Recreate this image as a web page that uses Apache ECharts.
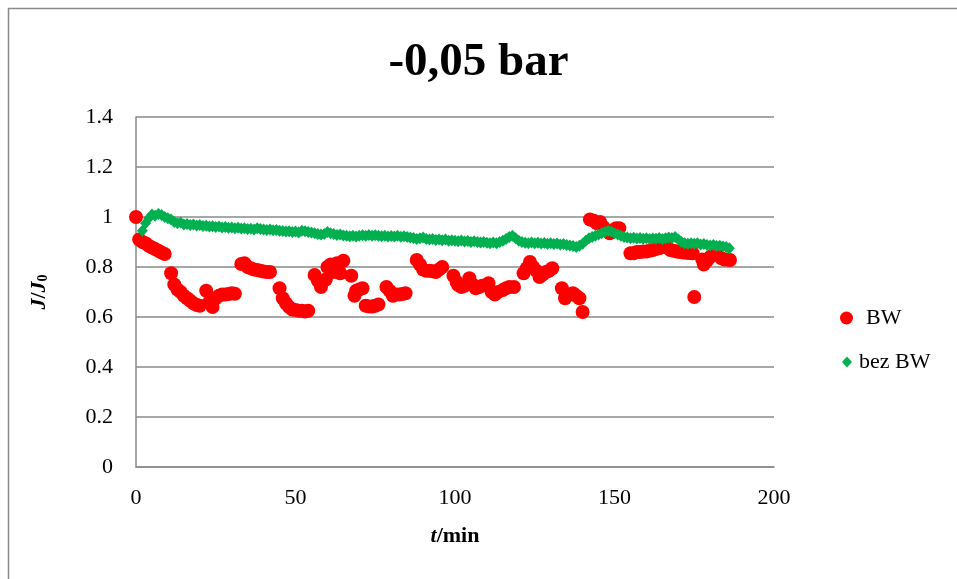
<!DOCTYPE html>
<html>
<head>
<meta charset="utf-8">
<script src="https://cdn.jsdelivr.net/npm/echarts@6/dist/echarts.min.js"></script>
<style>html,body{margin:0;padding:0;background:#fff}#c{width:957px;height:579px}</style>
</head>
<body>
<div id="c"></div>
<script>
var titleText = '-0,05 bar';
var seriesNames = ['BW', 'bez BW'];
var xTicks = {min: 0, max: 200, interval: 50};
var yTicks = {min: 0, max: 1.4, interval: 0.2};

var bwX = [0,1,2,3,4,5,6,7,8,9,11,12,13,14,15,16,17,18,19,20,22,23,24,25,26,27,28,29,30,31,33,34,35,36,37,38,39,40,41,42,45,46,47,48,49,50,51,52,53,54,56,57,58,59.5,60,61,62,63,64,65,67.5,68.5,69,70,71,72,73,74,75,76,78.5,79.5,80.5,81.5,82.5,83.5,84.5,88,89,90,91,92,93,94,95,96,99.5,100.5,101,102,103,104.5,105.5,106.5,107.5,108.5,110.5,111.5,112.5,113.5,115,116,117,118.5,121.5,122.5,123.5,124.5,125.5,126.5,127.5,128.5,129.5,130.5,133.5,134.5,135,136,137,138,139,140,142.3,143.5,144.5,145.5,146.5,147.5,148.5,149.5,150.5,151.5,155,156,157,158,159,160,161,162,163,164,165.5,166.5,167.5,168.5,169.5,170.5,171.5,172.5,173.5,174.5,175,177.5,178,179,180,181,182,183.5,184.5,185.5,186.2];
var bwY = [1.0,0.91,0.90,0.895,0.885,0.878,0.872,0.865,0.858,0.852,0.775,0.73,0.71,0.70,0.685,0.675,0.665,0.655,0.648,0.645,0.705,0.66,0.64,0.675,0.685,0.69,0.69,0.692,0.695,0.693,0.812,0.815,0.80,0.795,0.79,0.788,0.785,0.782,0.78,0.78,0.715,0.675,0.655,0.64,0.63,0.628,0.625,0.625,0.622,0.625,0.768,0.745,0.72,0.75,0.80,0.81,0.78,0.815,0.775,0.825,0.765,0.685,0.705,0.71,0.715,0.645,0.642,0.642,0.645,0.65,0.72,0.705,0.685,0.69,0.69,0.692,0.695,0.828,0.81,0.79,0.785,0.785,0.783,0.78,0.79,0.80,0.765,0.74,0.728,0.72,0.725,0.755,0.73,0.715,0.72,0.725,0.735,0.70,0.69,0.70,0.708,0.715,0.72,0.72,0.775,0.795,0.82,0.80,0.785,0.76,0.77,0.78,0.785,0.795,0.715,0.675,0.69,0.69,0.695,0.685,0.675,0.62,0.99,0.985,0.975,0.98,0.96,0.945,0.935,0.945,0.955,0.955,0.855,0.855,0.86,0.86,0.862,0.862,0.865,0.868,0.872,0.875,0.885,0.878,0.868,0.865,0.862,0.86,0.858,0.857,0.856,0.855,0.68,0.83,0.81,0.825,0.84,0.848,0.85,0.835,0.83,0.83,0.828];

var bezX = [2,3,4,5,6,7,8,9,10,11,12,13,14,15,16,17,18,19,20,21,22,23,24,25,26,27,28,29,30,31,32,33,34,35,36,37,38,39,40,41,42,43,44,45,46,47,48,49,50,51,52,53,54,55,56,57,58,59,60,61,62,63,64,65,66,67,68,69,70,71,72,73,74,75,76,77,78,79,80,81,82,83,84,85,86,87,88,89,90,91,92,93,94,95,96,97,98,99,100,101,102,103,104,105,106,107,108,109,110,111,112,113,114,115,116,117,118,119,120,121,122,123,124,125,126,127,128,129,130,131,132,133,134,135,136,137,138,139,140,141,142,143,144,145,146,147,148,149,150,151,152,153,154,155,156,157,158,159,160,161,162,163,164,165,166,167,168,169,170,171,172,173,174,175,176,177,178,179,180,181,182,183,184,185,186];
var bezY = [0.945,0.975,0.995,1.01,1.005,1.012,1.008,1.0,0.995,0.99,0.98,0.975,0.978,0.97,0.972,0.968,0.97,0.966,0.968,0.964,0.965,0.962,0.963,0.96,0.962,0.958,0.96,0.957,0.958,0.955,0.957,0.954,0.955,0.952,0.953,0.95,0.955,0.952,0.95,0.948,0.95,0.947,0.948,0.945,0.944,0.942,0.943,0.94,0.942,0.938,0.945,0.943,0.94,0.938,0.935,0.932,0.93,0.932,0.94,0.935,0.932,0.928,0.93,0.926,0.925,0.923,0.925,0.922,0.925,0.927,0.925,0.928,0.925,0.927,0.925,0.923,0.925,0.922,0.924,0.922,0.925,0.921,0.923,0.92,0.918,0.916,0.912,0.915,0.918,0.912,0.91,0.912,0.908,0.91,0.907,0.91,0.905,0.907,0.905,0.903,0.906,0.902,0.904,0.9,0.903,0.9,0.898,0.9,0.897,0.895,0.898,0.895,0.9,0.905,0.912,0.92,0.925,0.915,0.905,0.9,0.897,0.895,0.898,0.895,0.897,0.894,0.896,0.893,0.895,0.892,0.894,0.89,0.892,0.888,0.886,0.884,0.88,0.885,0.893,0.905,0.915,0.92,0.925,0.93,0.935,0.94,0.945,0.942,0.935,0.93,0.925,0.92,0.918,0.915,0.917,0.914,0.916,0.913,0.915,0.912,0.914,0.913,0.916,0.912,0.915,0.918,0.916,0.92,0.91,0.9,0.895,0.893,0.895,0.893,0.895,0.89,0.892,0.888,0.886,0.888,0.884,0.885,0.882,0.88,0.875];

function pairs(xs, ys) { return xs.map(function (x, i) { return [x, ys[i]]; }); }

var FONT = '"Liberation Serif","Times New Roman",serif';
var GRID_COLOR = '#8a8a8a';
var chart = echarts.init(document.getElementById('c'), null, {renderer: 'canvas'});
chart.setOption({
  backgroundColor: '#ffffff',
  animation: false,
  title: {
    text: titleText, left: 'center', top: 34,
    textStyle: {fontFamily: FONT, fontWeight: 'bold', fontSize: 47, color: '#000'}
  },
  graphic: [{
    type: 'rect', shape: {x: 8.5, y: 8.5, width: 1000, height: 1000},
    style: {fill: 'none', stroke: GRID_COLOR, lineWidth: 1.5}, silent: true
  }],
  legend: [{
    data: [seriesNames[0]], orient: 'vertical', left: 835, top: 302,
    icon: 'circle', itemWidth: 13, itemHeight: 13, itemGap: 10,
    itemStyle: {opacity: 1},
    textStyle: {fontFamily: FONT, fontSize: 22, color: '#000', padding: [0, 0, 0, 8]}
  }, {
    data: [seriesNames[1]], orient: 'vertical', left: 837, top: 346,
    icon: 'diamond', itemWidth: 10, itemHeight: 11, itemGap: 10,
    itemStyle: {opacity: 1},
    textStyle: {fontFamily: FONT, fontSize: 22, color: '#000', padding: [0, 0, 0, 2]}
  }],
  grid: {left: 136, right: 183, top: 117, bottom: 112, containLabel: false},
  xAxis: {
    type: 'value', min: xTicks.min, max: xTicks.max, interval: xTicks.interval,
    name: '{i|t}{b|/min}', nameLocation: 'middle', nameGap: 58,
    nameTextStyle: {rich: {
      i: {fontFamily: FONT, fontSize: 22, fontWeight: 'bold', fontStyle: 'italic', color: '#000'},
      b: {fontFamily: FONT, fontSize: 22, fontWeight: 'bold', color: '#000'}
    }},
    axisLine: {show: true, lineStyle: {color: GRID_COLOR, width: 1.5}},
    axisTick: {show: false},
    splitLine: {show: false},
    axisLabel: {fontFamily: FONT, fontSize: 22, color: '#000', margin: 20}
  },
  yAxis: {
    type: 'value', min: yTicks.min, max: yTicks.max, interval: yTicks.interval,
    name: '{i|J}{b|/}{i|J}{s|0}', nameLocation: 'middle', nameGap: 86, nameRotate: 90,
    nameTextStyle: {rich: {
      i: {fontFamily: FONT, fontSize: 22, fontWeight: 'bold', fontStyle: 'italic', color: '#000'},
      b: {fontFamily: FONT, fontSize: 22, fontWeight: 'bold', color: '#000'},
      s: {fontFamily: FONT, fontSize: 14, fontWeight: 'bold', color: '#000', verticalAlign: 'bottom', padding: [8, 0, 0, 0]}
    }},
    axisLine: {show: true, lineStyle: {color: GRID_COLOR, width: 1.5}},
    axisTick: {show: false},
    splitLine: {show: true, lineStyle: {color: GRID_COLOR, width: 1.5}},
    axisLabel: {fontFamily: FONT, fontSize: 22, color: '#000', margin: 23}
  },
  series: [{
    name: seriesNames[0], type: 'scatter', symbol: 'circle', symbolSize: 14,
    itemStyle: {color: '#ff0000', opacity: 1}, data: pairs(bwX, bwY), z: 2
  }, {
    name: seriesNames[1], type: 'scatter', symbol: 'diamond', symbolSize: [11, 12],
    itemStyle: {color: '#00b050', opacity: 1}, data: pairs(bezX, bezY), z: 3
  }]
});
</script>
</body>
</html>
